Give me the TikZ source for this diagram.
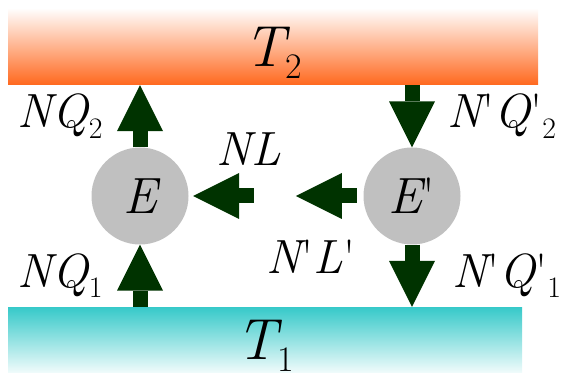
\documentclass[tikz,border=0pt]{standalone}
\usepackage{graphicx}
\usetikzlibrary{arrows.meta, positioning}
\definecolor{hotorange}{RGB}{255,104,30}
\definecolor{coldteal}{RGB}{54,201,201}
\definecolor{flowgreen}{RGB}{0,51,0}
\definecolor{bodygray}{RGB}{192,192,192}
\newcommand{\low}[1]{\raisebox{-0.22em}{\scalebox{0.62}{\upshape #1}}}
\newcommand{\pr}{{\upshape\textquotesingle}}

\begin{document}
\begin{tikzpicture}[x=1pt, y=-1pt,
  every node/.style={inner sep=0pt},
  reservoir/.style={rectangle, text depth=0pt, font=\fontsize{58}{58}\selectfont\itshape},
  engine/.style={circle, fill=bodygray, minimum size=97pt, font=\fontsize{51}{51}\selectfont\itshape},
  flow/.style={-{Triangle[width=46pt, length=46pt, line width=0pt]}, line width=15pt, draw=flowgreen},
  lbl/.style={font=\fontsize{48}{48}\selectfont\itshape}
]
\useasboundingbox (0,0) rectangle (562,379);

%--- Reservoirs ---%
\node[reservoir, minimum width=530pt, minimum height=77pt,
      top color=white, bottom color=hotorange] (hot) at (273,46.5) {T\low{2}};
\node[reservoir, minimum width=514pt, minimum height=65pt,
      top color=coldteal, bottom color=coldteal!8] (cold) at (265,339.5) {T\low{1}};

%--- Engines ---%
\node[engine] (e)  at (140,196) {E};
\node[engine] (ep) at (412,196) {E\pr};

%--- Flows ---%
\draw[flow] (e.north) -- node[lbl, left=30pt] {NQ\low{2}} (e.north |- hot.south);
\draw[flow] (e.south |- cold.north) -- node[lbl, left=30pt] {NQ\low{1}} (e.south);
\draw[flow] ([xshift=65pt]e.east) -- node[lbl, pos=0.08, above=23pt] {NL} ([xshift=4.5pt]e.east);
\draw[flow] ([xshift=-6.5pt]ep.west) -- node[lbl, pos=0.75, below=36pt] {N\pr L\pr} ([xshift=-67.5pt]ep.west);
\draw[flow] (ep.north |- hot.south) -- node[lbl, right=28pt] {N\pr Q\pr\low{2}} (ep.north);
\draw[flow] (ep.south) -- node[lbl, right=33pt] {N\pr Q\pr\low{1}} (ep.south |- cold.north);

\end{tikzpicture}
\end{document}
